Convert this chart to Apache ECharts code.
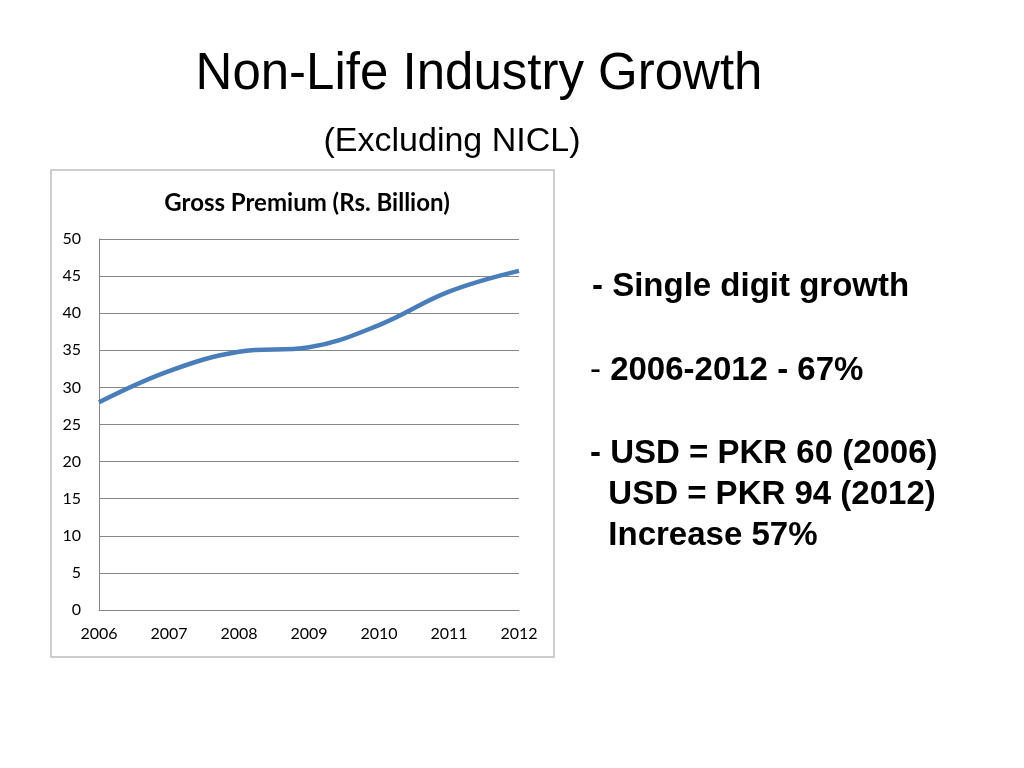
<!DOCTYPE html>
<html><head><meta charset="utf-8">
<script src="https://cdn.jsdelivr.net/npm/echarts@6/dist/echarts.min.js"></script>
<style>html,body{margin:0;background:#fff}#c{width:1024px;height:768px}</style>
</head><body><div id="c"></div>
<script>
const years = ['2006','2007','2008','2009','2010','2011','2012'];
const premium = [28, 32.2, 34.8, 35.4, 38.4, 42.9, 45.7];
const yTicks = {min:0, max:50, interval:5};
const chart = echarts.init(document.getElementById('c'));
chart.setOption({
  animation:false,
  title:[
    {text:'Non-Life Industry Growth',left:474,top:44,textAlign:'center',textStyle:{fontFamily:'Liberation Sans',fontSize:51,fontWeight:'normal',color:'#000'}},
    {text:'(Excluding NICL)',left:447,top:120,textAlign:'center',textStyle:{fontFamily:'Liberation Sans',fontSize:34,fontWeight:'normal',color:'#000'}},
    {text:'Gross Premium (Rs. Billion)',left:302,top:186,textAlign:'center',textStyle:{fontFamily:'Lato',fontSize:24,fontWeight:'bold',color:'#000'}}
  ],
  graphic:[
    {type:'rect',shape:{x:51,y:170,width:503,height:487},style:{fill:'none',stroke:'#bfbfbf',lineWidth:1.5}},
    {type:'text',left:592,top:270,style:{text:'- Single digit growth',font:'bold 33px "Liberation Sans"',fill:'#000'}},
    {type:'text',left:590,top:354,style:{rich:{a:{font:'33px "Liberation Sans"',fill:'#000'},b:{font:'bold 33px "Liberation Sans"',fill:'#000'}},text:'{a|- }{b|2006-2012 - 67%}'}},
    {type:'text',left:590,top:433,style:{text:'- USD = PKR 60 (2006)\n  USD = PKR 94 (2012)\n  Increase 57%',font:'bold 33px "Liberation Sans"',lineHeight:41,fill:'#000'}}
  ],
  grid:{left:99,right:505,top:239,bottom:158},
  xAxis:{type:'category',data:years,boundaryGap:false,axisTick:{show:false},
    axisLine:{lineStyle:{color:'#868686'}},axisLabel:{color:'#000',fontSize:16,fontFamily:'Lato',margin:16}},
  yAxis:{type:'value',...yTicks,axisLine:{show:true,lineStyle:{color:'#868686'}},
    splitLine:{lineStyle:{color:'#868686'}},axisLabel:{color:'#000',fontSize:16,fontFamily:'Lato',margin:18}},
  series:[{type:'line',data:premium,smooth:0.4,symbol:'none',lineStyle:{color:'#4A7EBB',width:4.5}}]
});
</script></body></html>
